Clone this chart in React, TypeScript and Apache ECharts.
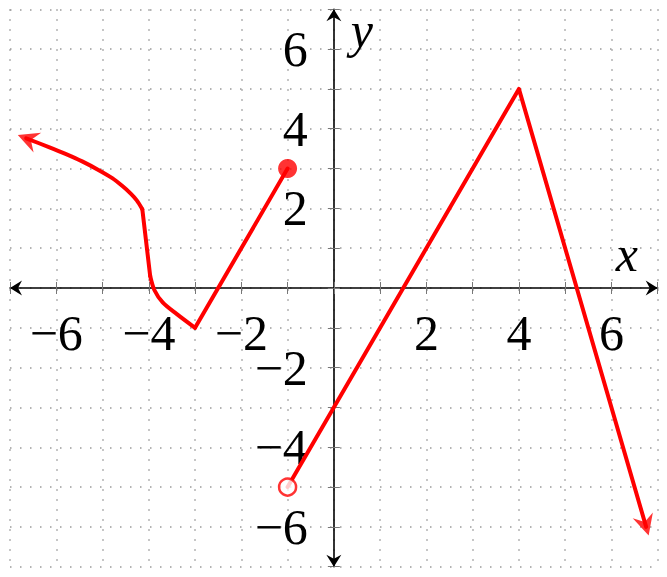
import React, { useEffect, useRef } from 'react';
import * as echarts from 'echarts';

// ---- data ----
const xMin = -7;
const xMax = 7;
const yMin = -7;
const yMax = 7;
const labeledTicks = [-6, -4, -2, 2, 4, 6];

// left branch, split where the reference shows corners
const leftUpperCurve: [number, number][] = [
  [-6.65, 3.76], [-6.16, 3.54], [-5.8, 3.37], [-5.44, 3.18], [-5.08, 2.96],
  [-4.79, 2.76], [-4.57, 2.56], [-4.39, 2.37], [-4.26, 2.2], [-4.14, 1.98],
];
const leftDrop: [number, number][] = [[-4.14, 1.98], [-3.97, 0.3]];
const leftLowerCurve: [number, number][] = [
  [-3.97, 0.3], [-3.88, -0.05], [-3.7, -0.36], [-3.4, -0.65], [-3, -1],
];
const leftRise: [number, number][] = [[-3, -1], [-1, 3]];
// right branch: from the open dot up to the peak and down to the arrow end
const rightBranch: [number, number][] = [[-1, -5], [4, 5], [6.75, -6]];
const closedDots: [number, number][] = [[-1, 3]];
const openDots: [number, number][] = [[-1, -5]];

const FONT = "'Liberation Serif', 'Times New Roman', serif";
const RED = '#ff0000';
const AXIS_ARROW = 'path://M7.5,0 L15,12 L7.5,8 L0,12 Z';
const RED_ARROW = 'path://M10,0 L20,21 L10,14 L0,21 Z';
const ARROW_W = 21;
const ARROW_LEN = 21;
const ARROW_EXT = 9;

const W = 667;
const H = 577;
const G = { left: 10, right: 9.3, top: 9.3, bottom: 10.3 };
const plotW = W - G.left - G.right;
const plotH = H - G.top - G.bottom;
// distance from the default axis position to the zero line
const xAxisShift = -((0 - yMin) / (yMax - yMin)) * plotH;
const yAxisShift = -((0 - xMin) / (xMax - xMin)) * plotW;

const fmt = (v: number) =>
  labeledTicks.includes(v) ? (v < 0 ? '\u2212' + Math.abs(v) : String(v)) : '';

export default function App() {
  const ref = useRef<HTMLDivElement>(null);
  useEffect(() => {
    if (!ref.current) return;
    const chart = echarts.init(ref.current, null, { renderer: 'svg' });
    const tick = { show: true, length: 6, lineStyle: { color: '#777', width: 1 } };
    const grid = { show: true, lineStyle: { color: '#9a9a9a', width: 1.5, type: [1.5, 8.5] } };
    const axisLine = {
      show: true,
      onZero: false,
      symbol: [AXIS_ARROW, AXIS_ARROW],
      symbolSize: [15, 12],
      symbolOffset: [6, -6],
      lineStyle: { color: '#000', width: 1.6 },
    };
    const lineSeries = (data: [number, number][], smooth: number) => ({
      type: 'line', data, xAxisIndex: 0, yAxisIndex: 0, symbol: 'none', silent: true, z: 3, smooth,
      lineStyle: { color: RED, width: 4, join: 'round', cap: 'round' },
    });
    const labelStyle = { fontFamily: FONT, fontSize: 50, lineHeight: 50, color: '#000' };
    const option: any = {
      animation: false,
      grid: { ...G, containLabel: false, outerBoundsMode: 'none' },
      xAxis: [
        {
          type: 'value', min: xMin, max: xMax, interval: 1, position: 'bottom', offset: xAxisShift,
          axisLine, axisTick: tick, splitLine: grid,
          axisLabel: { show: true, margin: 20, formatter: fmt, ...labelStyle },
          name: 'x', nameLocation: 'end', nameGap: -42, nameMoveOverlap: false,
          nameTextStyle: { ...labelStyle, fontStyle: 'italic', align: 'left', verticalAlign: 'bottom', padding: [0, 0, 9, 0] },
        },
        {
          type: 'value', min: xMin, max: xMax, interval: 1, position: 'top', offset: xAxisShift,
          axisLine: { show: false, onZero: false }, axisTick: tick, splitLine: { show: false },
          axisLabel: { show: false },
        },
      ],
      yAxis: [
        {
          type: 'value', min: yMin, max: yMax, interval: 1, position: 'left', offset: yAxisShift,
          axisLine, axisTick: tick, splitLine: grid,
          axisLabel: { show: true, margin: 26, formatter: fmt, ...labelStyle },
          name: 'y', nameLocation: 'end', nameGap: -21, nameMoveOverlap: false,
          nameTextStyle: { ...labelStyle, fontStyle: 'italic', align: 'left', verticalAlign: 'middle', padding: [0, 0, 0, 17] },
        },
        {
          type: 'value', min: yMin, max: yMax, interval: 1, position: 'right', offset: yAxisShift,
          axisLine: { show: false, onZero: false }, axisTick: tick, splitLine: { show: false },
          axisLabel: { show: false },
        },
      ],
      series: [
        lineSeries(leftUpperCurve, 0.3),
        lineSeries(leftDrop, 0),
        lineSeries(leftLowerCurve, 0.3),
        lineSeries(leftRise, 0),
        lineSeries(rightBranch, 0),
        {
          type: 'scatter', data: closedDots, xAxisIndex: 0, yAxisIndex: 0, symbol: 'circle', symbolSize: 19, z: 5,
          itemStyle: { color: RED },
        },
        {
          type: 'scatter', data: openDots, xAxisIndex: 0, yAxisIndex: 0, symbol: 'circle', symbolSize: 17, z: 5,
          itemStyle: { color: '#fff', borderColor: RED, borderWidth: 2.5 },
        },
      ],
    };
    chart.setOption(option);

    const toPx = (p: number[]) => chart.convertToPixel({ seriesIndex: 0 }, p) as number[];
    const arrowAt = (tip: number[], prev: number[]) => {
      const a = toPx(tip);
      const b = toPx(prev);
      let ux = a[0] - b[0];
      let uy = a[1] - b[1];
      const len = Math.hypot(ux, uy) || 1;
      ux /= len;
      uy /= len;
      const rot = (Math.atan2(-ux, -uy) * 180) / Math.PI;
      const shift = ARROW_EXT - ARROW_LEN / 2;
      return { value: tip, symbolRotate: rot, symbolOffset: [shift * ux, shift * uy] };
    };
    const n = rightBranch.length;
    option.series.push({
      type: 'scatter', xAxisIndex: 0, yAxisIndex: 0, symbol: RED_ARROW, symbolSize: [ARROW_W, ARROW_LEN], z: 4,
      itemStyle: { color: RED },
      data: [arrowAt(leftUpperCurve[0], leftUpperCurve[1]), arrowAt(rightBranch[n - 1], rightBranch[n - 2])],
    });
    chart.setOption(option);
    return () => chart.dispose();
  }, []);
  return <div ref={ref} style={{ position: 'absolute', left: 0, top: 0, width: W, height: H }} />;
}
